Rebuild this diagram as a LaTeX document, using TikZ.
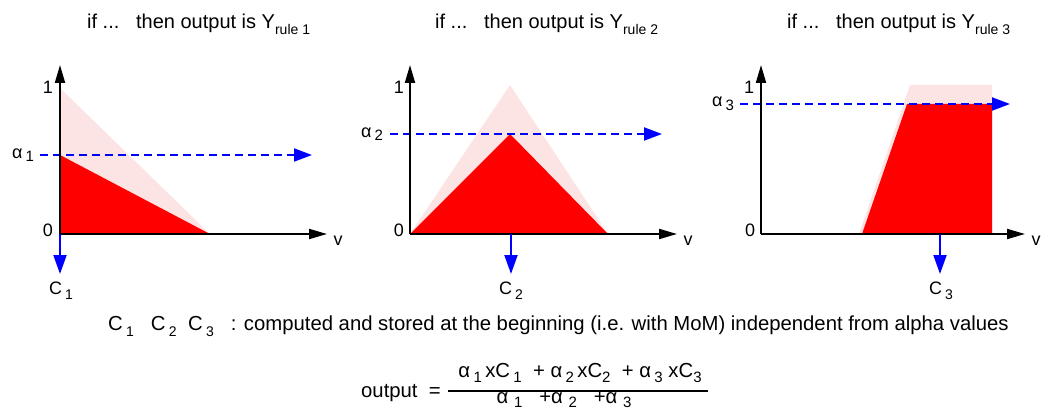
\documentclass[tikz,border=0pt]{standalone}
\usepackage{fontspec}
\setmainfont{Liberation Sans}
\usetikzlibrary{arrows.meta}
\definecolor{pinkfill}{RGB}{253,228,228}
\newcommand{\lowsub}[1]{\raisebox{-0.3em}{\fontsize{14}{16}\selectfont #1}}
\newcommand{\fsub}[1]{\raisebox{-0.2em}{\fontsize{15}{16}\selectfont #1}}
\tikzset{
  axisarrow/.style={line width=2pt, -{Triangle[length=18pt,width=10pt]}},
  alphaline/.style={blue, line width=2pt, dash pattern=on 8pt off 5pt, -{Triangle[length=18pt,width=13pt]}},
  centroidarrow/.style={blue, line width=2pt, -{Triangle[length=19pt,width=13pt]}},
  txt/.style={inner sep=0pt, font=\fontsize{18}{22}\selectfont},
  bigtxt/.style={inner sep=0pt, font=\fontsize{20.3}{24}\selectfont},
  ttl/.style={inner sep=0pt, anchor=base west, font=\fontsize{20}{24}\selectfont},
}
\begin{document}
\begin{tikzpicture}[x=1pt,y=-1pt]
\useasboundingbox (0,0) rectangle (1042,409);

% ---------- titles
\node[ttl] (t1) at (87,29) {if ...\ \ \ then output is Y\lowsub{rule 1}};
\node[ttl] (t2) at (435,29) {if ...\ \ \ then output is Y\lowsub{rule 2}};
\node[ttl] (t3) at (787,29) {if ...\ \ \ then output is Y\lowsub{rule 3}};

% ---------- panel 1
\fill[pinkfill] (60,88) -- (60,234) -- (210,234) -- cycle;
\fill[red] (60,155) -- (60,234) -- (210,234) -- cycle;
\coordinate (o1) at (60,234);
\coordinate (y1) at (60,65);
\coordinate (x1) at (327,234);
\coordinate (c1) at (60,274);
\coordinate (a1s) at (40,155);
\coordinate (a1e) at (312,155);
\draw[alphaline] (a1s) -- (a1e);
\draw[axisarrow] (o1) -- (y1);
\draw[axisarrow] (o1) -- (x1);
\draw[centroidarrow] (o1) -- (c1);
\node[txt] (one1) at (48,87) {1};
\node[txt] (zero1) at (48,230) {0};
\node[txt] (v1) at (338,241) {v};
\node[txt] (al1) at (23,155) {α\,\fsub{1}};
\node[txt] (C1) at (61,291) {C\,\lowsub{1}};

% ---------- panel 2
\fill[pinkfill] (410,234) -- (510,85) -- (608,234) -- cycle;
\fill[red] (410,234) -- (510,134) -- (608,234) -- cycle;
\coordinate (o2) at (410,234);
\coordinate (y2) at (410,65);
\coordinate (x2) at (677,234);
\coordinate (b2) at (511,234);
\coordinate (c2) at (511,274);
\coordinate (a2s) at (390,134);
\coordinate (a2e) at (662,134);
\draw[alphaline] (a2s) -- (a2e);
\draw[axisarrow] (o2) -- (y2);
\draw[axisarrow] (o2) -- (x2);
\draw[centroidarrow] (b2) -- (c2);
\node[txt] (one2) at (399,87) {1};
\node[txt] (zero2) at (399,230) {0};
\node[txt] (v2) at (688,241) {v};
\node[txt] (al2) at (372,134) {α\,\fsub{2}};
\node[txt] (C2) at (511,291) {C\,\lowsub{2}};

% ---------- panel 3
\fill[pinkfill] (859,234) -- (910,85) -- (992,85) -- (992,234) -- cycle;
\fill[red] (862,234) -- (907,104) -- (992,104) -- (992,234) -- cycle;
\coordinate (o3) at (761,234);
\coordinate (y3) at (761,65);
\coordinate (x3) at (1025,234);
\coordinate (b3) at (940,234);
\coordinate (c3) at (940,274);
\coordinate (a3s) at (740,104);
\coordinate (a3e) at (1010,104);
\draw[alphaline] (a3s) -- (a3e);
\draw[axisarrow] (o3) -- (y3);
\draw[axisarrow] (o3) -- (x3);
\draw[centroidarrow] (b3) -- (c3);
\node[txt] (one3) at (749,87) {1};
\node[txt] (zero3) at (750,230) {0};
\node[txt] (v3) at (1036,241) {v};
\node[txt] (al3) at (723,104) {α\,\fsub{3}};
\node[txt] (C3) at (941,291) {C\,\lowsub{3}};

% ---------- bottom text
\node[bigtxt, anchor=base west] (note) at (108,330) {C\,\lowsub{1}\ \ \ C\,\lowsub{2}\ \ C\,\lowsub{3}\ \ \ : computed and stored at the beginning (i.e. with MoM) independent from alpha values};

\node[bigtxt, anchor=base west] (outp) at (361,397) {output\ \ =};
\node[bigtxt] (num) at (580,373) {α\,\fsub{1}\,xC\,\fsub{1}\ \ + α\,\fsub{2}\,xC\fsub{2}\ \ + α\,\fsub{3}\ xC\fsub{3}};
\node[bigtxt] (den) at (564,400) {α\ \fsub{1}\ \ \ +α\ \fsub{2}\ \ \ +α\ \fsub{3}};
\coordinate (barl) at (448,391);
\coordinate (barr) at (708,391);
\draw[line width=1.4pt] (barl) -- (barr);
\end{tikzpicture}
\end{document}
